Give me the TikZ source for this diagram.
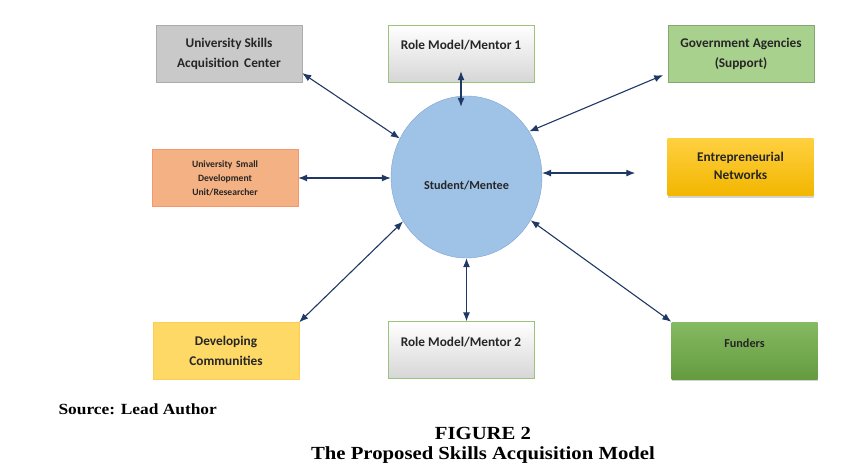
\documentclass[tikz,border=0pt]{standalone}
\usepackage{fontspec}
\usepackage{tikz}
\usetikzlibrary{arrows.meta,
  positioning,
  calc,
  shapes.geometric,
  shadows}
\usepackage{xcolor}

\newfontfamily\boxfont{Carlito}
\newfontfamily\capfont[FakeStretch=1.12]{Liberation Serif}

\definecolor{linknavy}{HTML}{1F3864}
\definecolor{boxtext}{HTML}{262626}
\definecolor{hubfill}{HTML}{9FC2E7}
\definecolor{hubline}{HTML}{7EA3D2}
\definecolor{centergray}{HTML}{C9C9C9}
\definecolor{agencygreen}{HTML}{A9D18E}
\definecolor{unitorange}{HTML}{F4B183}
\definecolor{communityyellow}{HTML}{FFD966}
\definecolor{networkgold}{HTML}{FFC000}
\definecolor{fundergreen}{HTML}{70AD47}
\definecolor{mentorline}{HTML}{9BC37E}

% text lifted off the middle of its box, without changing the box
\newcommand{\lift}[2]{\raisebox{#1}[0pt][0pt]{#2}}

\tikzset{
  box/.style={rectangle, minimum width=146pt, minimum height=57pt, inner sep=2pt,
    align=center, font=\boxfont\bfseries\fontsize{13.3}{20}\selectfont, text=boxtext},
  mentor/.style={box, draw=mentorline, top color=white, middle color=white, bottom color=gray!32},
  link/.style={<->, >={Latex[length=9pt,width=7pt]}, linknavy, line width=1.1pt}
}

\begin{document}
\begin{tikzpicture}[x=1pt,y=-1pt]
      \useasboundingbox (0,0) rectangle (867,476);

      % Centre:
      \node [ellipse, draw=hubline, fill=hubfill,
        minimum width=151pt, minimum height=162pt, inner sep=0pt,
        font=\boxfont\bfseries\fontsize{12.2}{15}\selectfont, text=boxtext]
        (student) at (466.5,177) {\lift{-12pt}{Student/Mentee}};

      % Boxes:
      \node [box, draw=gray!65, fill=centergray] (usac) at (229,53.5)
        {University Skills\\Acquisition\, Center};
      \node [mentor] (rmone) at (461,53.5) {\lift{4pt}{Role Model/Mentor 1}};
      \node [box, draw=agencygreen!80!black, fill=agencygreen] (ga) at (741,53.5)
        {Government Agencies\\(Support)};
      \node [box, draw=unitorange!85!red, fill=unitorange, font=\boxfont\bfseries\fontsize{9.6}{14}\selectfont]
        (usdu) at (225,178) {University\, Small\\Development\\Unit/Researcher};
      \node [box, top color=networkgold!75!white, bottom color=networkgold!95!black,
        drop shadow={shadow xshift=0pt, shadow yshift=-2pt, opacity=0.35}]
        (en) at (740.5,167) {\raisebox{2pt}{\shortstack{Entrepreneurial\\[4pt]Networks}}};
      \node [box, draw=communityyellow!85!orange, fill=communityyellow] (dc) at (226,351)
        {Developing\\Communities};
      \node [mentor] (rmtwo) at (461,350) {\lift{3.5pt}{Role Model/Mentor 2}};
      \node [box, top color=fundergreen!85!white, bottom color=fundergreen!90!black,
        drop shadow={shadow xshift=0pt, shadow yshift=-2pt, opacity=0.35},
        font=\boxfont\bfseries\fontsize{12.2}{15}\selectfont]
        (fund) at (744.5,350.5) {\lift{3pt}{Funders}};

      % Connectors:
      % Both ends get a head, anchored by angle on the circle:
      \draw [link] (usac.-15) -- (student.150);
      \draw [link, shorten <=-11pt, shorten >=-11pt] (rmone.south) -- (rmone.south |- student.north);
      \draw [link, shorten >=5pt] (student.36) -- (ga.195);
      \draw [link] (usdu.east) -- (usdu.east -| student.west);
      \draw [link, shorten >=32pt] (student.3) -- (student.3 -| en.west);
      \draw [link] (dc.north east) -- (student.215);
      \draw [link] (student.south) -- (student.south |- rmtwo.north);
      \draw [link] (student.-34) -- (fund.north west);

      % Caption:
      \node [anchor=west, font=\capfont\bfseries\fontsize{15.5}{18}\selectfont] (source) at (55,409)
        {Source: Lead Author};
      \node [font=\capfont\bfseries\fontsize{18.5}{22}\selectfont] (fig) at (483,433) {FIGURE 2};
      \node [font=\capfont\bfseries\fontsize{18.5}{22}\selectfont] (title) at (483,455)
        {The Proposed Skills Acquisition Model};
    \end{tikzpicture}
\end{document}
